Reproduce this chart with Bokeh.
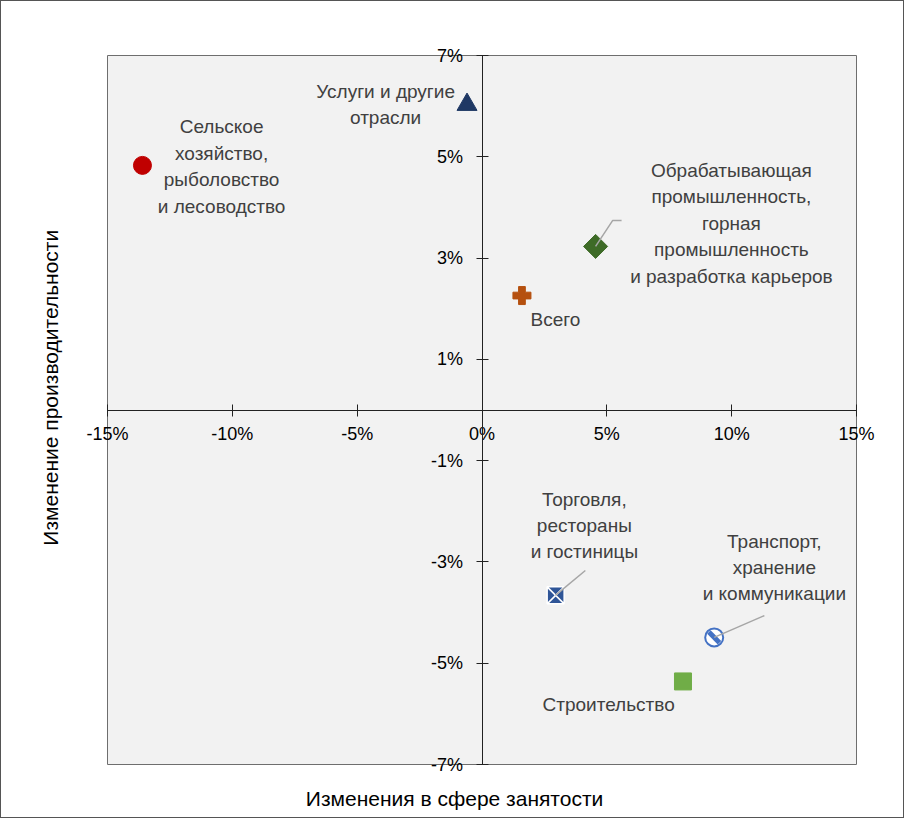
import math
from bokeh.plotting import figure
from bokeh.models import FixedTicker, Range1d, ColumnDataSource, LinearAxis
from bokeh.core.properties import value
from bokeh.embed import file_html
from bokeh.resources import INLINE

# ---- data ----
sectors = [
    "Сельское\nхозяйство,\nрыболовство\nи лесоводство",
    "Услуги и другие\nотрасли",
    "Обрабатывающая\nпромышленность,\nгорная\nпромышленность\nи разработка карьеров",
    "Всего",
    "Торговля,\nрестораны\nи гостиницы",
    "Транспорт,\nхранение\nи коммуникации",
    "Строительство",
]
employment_change = [-13.6, -0.6, 4.55, 1.6, 2.95, 9.3, 8.05]
productivity_change = [4.83, 6.03, 3.23, 2.26, -3.66, -4.49, -5.36]

label_x = [-10.43, -3.86, 9.99, 2.94, 4.10, 11.71, 5.07]
label_y = [4.81, 6.03, 3.69, 1.79, -2.28, -3.11, -5.81]

# leader lines (data coords)
leader_xs = [[4.55, 5.23, 5.59], [2.94, 4.14], [9.3, 11.31]]
leader_ys = [[3.23, 3.74, 3.74], [-3.66, -3.17], [-4.49, -4.06]]

x_min, x_max = -15, 15
y_min, y_max = -7, 7
x_ticks = [-15, -10, -5, 0, 5, 10, 15]
y_ticks = [7, 5, 3, 1, -1, -3, -5, -7]

x_title = "Изменения в сфере занятости"
y_title = "Изменение производительности"

FONT = "Liberation Sans"

# ---- layout (pixels) ----
W, H = 904, 818
PL, PR, PT, PB = 106, 855, 54, 763   # plot-area edges on the canvas
sx = (PR - PL) / (x_max - x_min)
sy = (PB - PT) / (y_max - y_min)
x_lo = x_min - PL / sx
x_hi = x_max + (W - PR) / sx
y_hi = y_max + PT / sy
y_lo = y_min - (H - PB) / sy

p = figure(width=W, height=H, x_range=Range1d(x_lo, x_hi), y_range=Range1d(y_lo, y_hi),
           output_backend="svg", toolbar_location=None,
           x_axis_location=None, y_axis_location=None,
           min_border_left=0, min_border_right=0, min_border_top=0, min_border_bottom=0,
           background_fill_color="white", border_fill_color="white")
p.styles = {"border": "1px solid #555555", "box-sizing": "border-box"}
p.outline_line_color = None
p.grid.visible = False

# plot area
p.quad(left=[x_min], right=[x_max], bottom=[y_min], top=[y_max],
       fill_color="#f2f2f2", line_color="#6e6e6e", line_width=1)

xaxis = LinearAxis(fixed_location=0, bounds=(x_min, x_max), ticker=FixedTicker(ticks=x_ticks),
                   major_label_overrides={t: f"{t}%" for t in x_ticks})
yaxis = LinearAxis(fixed_location=0, bounds=(y_min, y_max), ticker=FixedTicker(ticks=y_ticks),
                   major_label_overrides={t: f"{t}%" for t in y_ticks})
for ax in (xaxis, yaxis):
    ax.axis_line_color = "#222222"
    ax.major_tick_line_color = "#222222"
    ax.minor_tick_line_color = None
    ax.major_tick_in = 6
    ax.major_tick_out = 6
    ax.major_label_text_font = FONT
    ax.major_label_text_font_size = "18px"
    ax.major_label_text_color = "black"
xaxis.major_label_standoff = 8
yaxis.major_label_standoff = 13
p.add_layout(xaxis, "below")
p.add_layout(yaxis, "left")

# markers
X, Y = employment_change, productivity_change
p.scatter([X[0]], [Y[0]], marker="circle", size=18, fill_color="#c00000", line_color="#c00000")
p.scatter([X[1]], [Y[1]], marker="triangle", size=20, fill_color="#1f3864", line_color="#1f3864")
p.scatter([X[2]], [Y[2]], marker="square", size=17, angle=math.pi / 4,
          fill_color="#3e6b27", line_color="#3e6b27")
p.scatter([X[3]], [Y[3]], marker="plus", size=18, fill_color="#b5500f", line_color="#b5500f")
p.scatter([X[4]], [Y[4]], marker="square_x", size=17, fill_color="#2f5597",
          line_color="white", line_width=1.5)
p.scatter([X[5]], [Y[5]], marker="circle", size=18, fill_color="white", line_color="#4472c4",
          line_width=2)
p.scatter([X[5]], [Y[5]], marker="dash", size=15, angle=-math.pi / 4, line_color="#4472c4",
          line_width=5)
p.scatter([X[6]], [Y[6]], marker="square", size=17, fill_color="#70ad47", line_color="#70ad47")

# leader lines
p.multi_line(xs=leader_xs, ys=leader_ys, line_color="#a6a6a6", line_width=1.5)

# data labels
src = ColumnDataSource(dict(x=label_x, y=label_y, text=sectors))
p.text(x="x", y="y", text="text", source=src, text_align="center", text_baseline="middle",
       text_font=value(FONT), text_font_size="19px", text_color="#404040",
       text_line_height=1.26)

# axis titles (centred below / left of the plot area)
p.text(x=[-1.1], y=[y_min - 34 / sy], text=[x_title], text_align="center",
       text_baseline="middle", text_font=value(FONT), text_font_size="21px",
       text_color="black")
p.text(x=[x_min - 57 / sx], y=[0.44], text=[y_title], angle=math.pi / 2, text_align="center",
       text_baseline="middle", text_font=value(FONT), text_font_size="21px",
       text_color="black")

open("out.html", "w").write(file_html(p, INLINE))
